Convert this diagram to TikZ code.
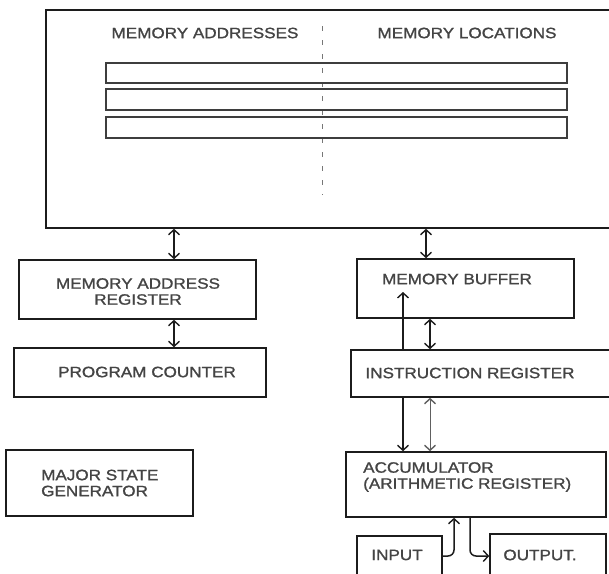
\documentclass[tikz,border=0pt]{standalone}
\usepackage{fontspec}
\setmainfont{Liberation Sans}[FakeStretch=1.14,FakeBold=1.3]
\usetikzlibrary{arrows.meta,calc}
\definecolor{ink}{HTML}{1C1C1C}
\definecolor{txt}{HTML}{444444}
\tikzset{
  box/.style={draw=ink, line width=1.6pt, inner sep=0pt},
  rowbox/.style={draw=ink!85, line width=1.1pt, inner sep=0pt, minimum width=461pt},
  lbl/.style={text=txt, inner sep=0pt, font=\fontsize{15}{17}\selectfont, align=center},
  lbll/.style={lbl, align=left},
  conn/.style={draw=ink, line width=1.5pt},
  tip/.style={-{Straight Barb[length=5pt,width=11pt,line width=1.4pt]}},
  dtip/.style={{Straight Barb[length=5pt,width=11pt,line width=1.4pt]}-{Straight Barb[length=5pt,width=11pt,line width=1.4pt]}},
  thinconn/.style={draw=ink!70, line width=0.8pt},
  divider/.style={draw=ink!60, line width=1pt, dash pattern=on 5pt off 9pt}
}
\begin{document}
\begin{tikzpicture}[x=1pt,y=-1pt]
\useasboundingbox (0,0) rectangle (609,573);
\clip (0,0) rectangle (609,573);
\fill[white] (0,0) rectangle (609,573);
% memory
\node[box, minimum width=569pt, minimum height=218pt] (mem) at (330.5,119) {};
\node[lbl] (ma) at (205,33) {MEMORY ADDRESSES};
\node[lbl] (ml) at (467,33) {MEMORY LOCATIONS};
\coordinate (dtop) at (322,26);
\coordinate (dbot) at (322,195);
\draw[divider] (dtop) -- (dbot);
\node[rowbox, minimum height=20pt] (r1) at (336.5,73) {};
\node[rowbox, minimum height=21pt] (r2) at (336.5,99.5) {};
\node[rowbox, minimum height=21pt] (r3) at (336.5,127.5) {};
% left column
\node[box, minimum width=237pt, minimum height=59pt] (mar) at (137.5,289.5) {};
\node[lbl] (marT) at (138,291.5) {MEMORY ADDRESS\\[-1pt]REGISTER};
\node[box, minimum width=252pt, minimum height=49pt] (pc) at (140,372.5) {};
\node[lbl] (pcT) at (147,372) {PROGRAM COUNTER};
\node[box, minimum width=187pt, minimum height=66pt] (msg) at (99.5,483) {};
\node[lbll, anchor=west] (msgT) at (41,483) {MAJOR STATE\\[-1pt]GENERATOR};
% right column
\node[box, minimum width=217pt, minimum height=59pt] (mb) at (465.5,288.5) {};
\node[lbl] (mbT) at (457,279) {MEMORY BUFFER};
\node[box, minimum width=264pt, minimum height=47pt] (ir) at (483,373.5) {};
\node[lbl] (irT) at (470,373) {INSTRUCTION REGISTER};
\node[box, minimum width=260pt, minimum height=65pt] (acc) at (476,484.5) {};
\node[lbll, anchor=west] (accT) at (363,477) {ACCUMULATOR\\[-1pt](ARITHMETIC REGISTER)};
\node[box, minimum width=85pt, minimum height=54pt] (inp) at (399.5,563) {};
\node[lbl] (inpT) at (397,555) {INPUT};
\node[box, minimum width=116pt, minimum height=56pt] (out) at (548,562) {};
\node[lbl] (outT) at (540,555) {OUTPUT.};
% guide coordinates
\coordinate (xa) at (174,0);
\coordinate (xb) at (426,0);
\coordinate (xc) at (403,0);
\coordinate (xd) at (430,0);
\coordinate (xe) at (470,0);
\coordinate (xf) at (454,0);
\coordinate (mbin) at (403,292);
\coordinate (yo) at (0,556);
\coordinate (yi) at (0,556);
% connectors
\draw[conn,dtip] (mem.south -| xa) -- (mar.north -| xa);
\draw[conn,dtip] (mem.south -| xb) -- (mb.north -| xb);
\draw[conn,dtip] (mar.south -| xa) -- (pc.north -| xa);
\draw[conn,tip] (ir.north -| xc) -- (mbin);
\draw[conn,dtip] (mb.south -| xd) -- (ir.north -| xd);
\draw[conn,tip] (ir.south -| xc) -- (acc.north -| xc);
\draw[thinconn,dtip] (ir.south -| xd) -- (acc.north -| xd);
\draw[conn,tip,rounded corners=6pt] (acc.south -| xe) |- (out.west |- yo);
\draw[conn,tip,rounded corners=6pt] (inp.east |- yi) -| (acc.south -| xf);
\end{tikzpicture}
\end{document}
